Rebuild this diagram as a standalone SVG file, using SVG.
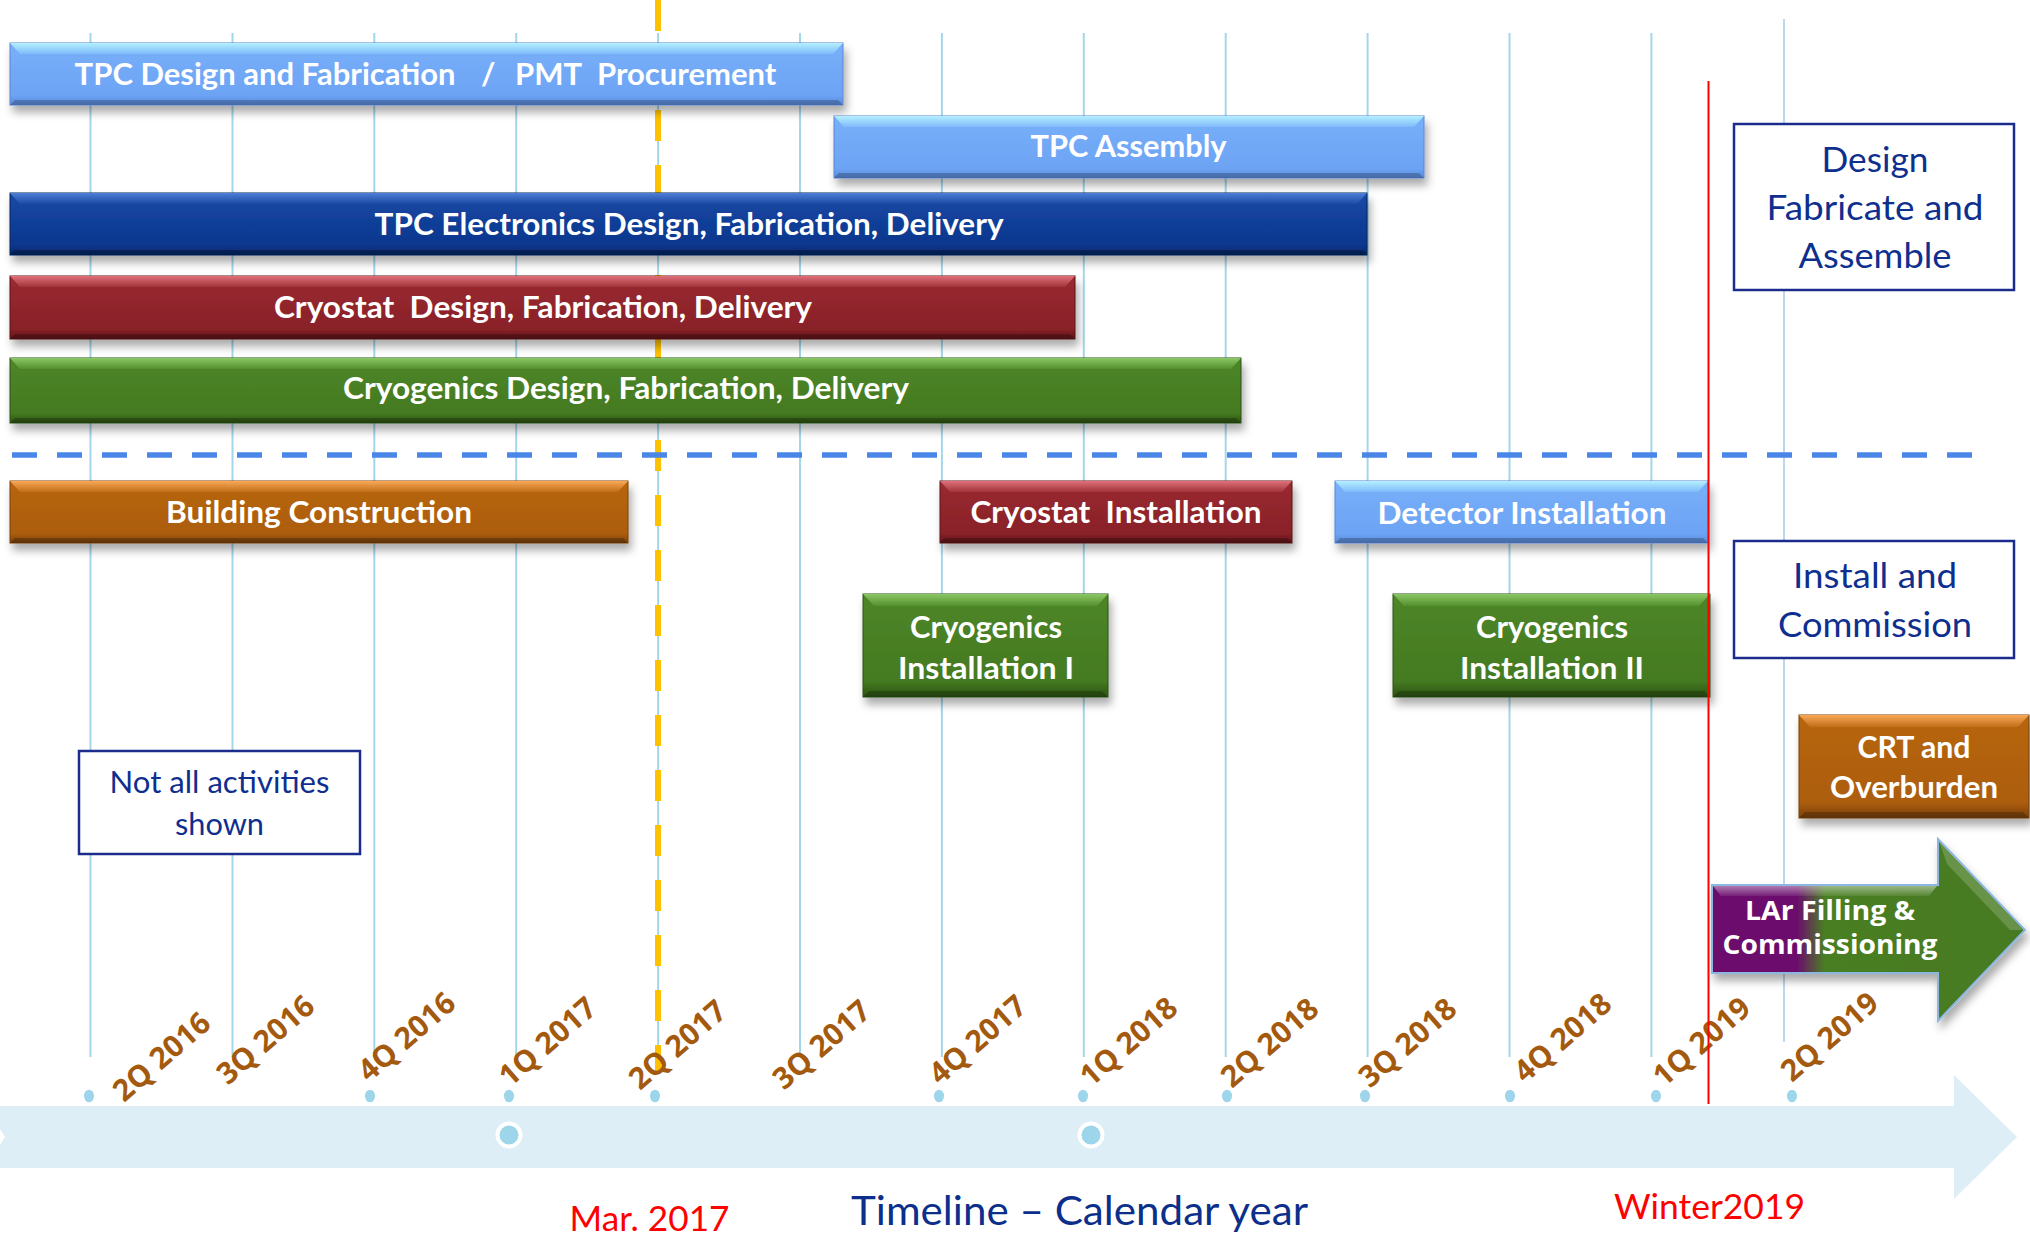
<svg xmlns="http://www.w3.org/2000/svg" width="2030" height="1238" viewBox="0 0 2030 1238">
  <defs>
    <style>
      .grid { stroke: #A4D6EA; stroke-width: 2; }
      .bt { font-family: Lato, "Liberation Sans", sans-serif; font-weight: 700; font-size: 31px; fill: #ffffff; text-anchor: middle; }
      .st { text-anchor: start; }
      .lar { font-family: "Open Sans", "Liberation Sans", sans-serif; font-size: 26px; }
      .qt { font-family: "Open Sans", "Liberation Sans", sans-serif; font-weight: 700; font-size: 30px; fill: #A35A0E; }
      .box { fill: #ffffff; stroke: #1B2C8C; stroke-width: 2.5; }
      .bx { font-family: Lato, "Liberation Sans", sans-serif; font-size: 35px; fill: #0F2F8F; text-anchor: middle; }
      .bxs { font-size: 31px; }
      .red { font-family: Lato, "Liberation Sans", sans-serif; font-size: 35px; fill: #FF0000; }
      .dot { fill: #9DD5EA; }
      .lb { fill: url(#bLb); stroke: #5A86D6; stroke-width: 1; }
      .db { fill: url(#bDb); stroke: #06275F; stroke-width: 1; }
      .rd { fill: url(#bRd); stroke: #5A1418; stroke-width: 1; }
      .gr { fill: url(#bGr); stroke: #2C5213; stroke-width: 1; }
      .or { fill: url(#bOr); stroke: #784008; stroke-width: 1; }
      .hlb { fill: url(#tLb); } .hdb { fill: url(#tDb); } .hrd { fill: url(#tRd); } .hgr { fill: url(#tGr); } .hor { fill: url(#tOr); }
      .lo { fill: #000000; fill-opacity: 0.22; }
    </style>
    <filter id="sh" x="-5%" y="-20%" width="112%" height="160%">
      <feDropShadow dx="3" dy="7" stdDeviation="4" flood-color="#000" flood-opacity="0.33"/>
    </filter>
    <!-- bar bodies -->
    <linearGradient id="bLb" x1="0" y1="0" x2="0" y2="1"><stop offset="0" stop-color="#78B0FA"/><stop offset="0.85" stop-color="#6CA3F4"/><stop offset="1" stop-color="#5A8AD8"/></linearGradient>
    <linearGradient id="bDb" x1="0" y1="0" x2="0" y2="1"><stop offset="0" stop-color="#1A4AA6"/><stop offset="0.85" stop-color="#08368D"/><stop offset="1" stop-color="#05265F"/></linearGradient>
    <linearGradient id="bRd" x1="0" y1="0" x2="0" y2="1"><stop offset="0" stop-color="#9A2A31"/><stop offset="0.85" stop-color="#892128"/><stop offset="1" stop-color="#5C1418"/></linearGradient>
    <linearGradient id="bGr" x1="0" y1="0" x2="0" y2="1"><stop offset="0" stop-color="#4E8628"/><stop offset="0.85" stop-color="#447A21"/><stop offset="1" stop-color="#2C5213"/></linearGradient>
    <linearGradient id="bOr" x1="0" y1="0" x2="0" y2="1"><stop offset="0" stop-color="#B8660F"/><stop offset="0.85" stop-color="#AC5D0E"/><stop offset="1" stop-color="#7A4008"/></linearGradient>
    <!-- top bevels -->
    <linearGradient id="tLb" x1="0" y1="0" x2="0" y2="1"><stop offset="0" stop-color="#B4F0FF"/><stop offset="1" stop-color="#80BAFA"/></linearGradient>
    <linearGradient id="tDb" x1="0" y1="0" x2="0" y2="1"><stop offset="0" stop-color="#4E7ED6"/><stop offset="1" stop-color="#1B4AA4"/></linearGradient>
    <linearGradient id="tRd" x1="0" y1="0" x2="0" y2="1"><stop offset="0" stop-color="#E0707A"/><stop offset="1" stop-color="#A0343A"/></linearGradient>
    <linearGradient id="tGr" x1="0" y1="0" x2="0" y2="1"><stop offset="0" stop-color="#8CC766"/><stop offset="1" stop-color="#55902E"/></linearGradient>
    <linearGradient id="tOr" x1="0" y1="0" x2="0" y2="1"><stop offset="0" stop-color="#F9A858"/><stop offset="1" stop-color="#C06E18"/></linearGradient>
    <!-- purple-to-green fill of the final arrow -->
    <linearGradient id="larFill" x1="0" y1="0" x2="1" y2="0">
      <stop offset="0" stop-color="#6C0A6E"/><stop offset="0.27" stop-color="#6C0A6E"/>
      <stop offset="0.36" stop-color="#4A7E24"/><stop offset="1" stop-color="#467A22"/>
    </linearGradient>
    <linearGradient id="larTop" x1="0" y1="0" x2="0" y2="1"><stop offset="0" stop-color="#ffffff" stop-opacity="0.45"/><stop offset="1" stop-color="#ffffff" stop-opacity="0.08"/></linearGradient>
  </defs>

  <rect width="2030" height="1238" fill="#ffffff"/>

  <!-- quarter grid -->
  <g id="grid">
    <line class="grid" x1="90.5" y1="33" x2="90.5" y2="1057"/>
    <line class="grid" x1="232.5" y1="33" x2="232.5" y2="1057"/>
    <line class="grid" x1="374.3" y1="33" x2="374.3" y2="1057"/>
    <line class="grid" x1="516.2" y1="33" x2="516.2" y2="1057"/>
    <line class="grid" x1="658.1" y1="33" x2="658.1" y2="1057"/>
    <line class="grid" x1="800" y1="33" x2="800" y2="1057"/>
    <line class="grid" x1="941.9" y1="33" x2="941.9" y2="1057"/>
    <line class="grid" x1="1083.8" y1="33" x2="1083.8" y2="1057"/>
    <line class="grid" x1="1225.7" y1="33" x2="1225.7" y2="1057"/>
    <line class="grid" x1="1367.6" y1="33" x2="1367.6" y2="1057"/>
    <line class="grid" x1="1509.5" y1="33" x2="1509.5" y2="1057"/>
    <line class="grid" x1="1651.4" y1="33" x2="1651.4" y2="1057"/>
    <line x1="1784" y1="19" x2="1784" y2="1042" stroke="#BDD7EE" stroke-width="2"/>
  </g>

  <!-- markers: current date and phase separator -->
  <g id="connectors">
    <line x1="658" y1="0" x2="658" y2="1072" stroke="#FFC000" stroke-width="6" stroke-dasharray="31 24"/>
    <line x1="12" y1="455" x2="1972" y2="455" stroke="#4A86E8" stroke-width="5.5" stroke-dasharray="25 20"/>
  </g>

  <!-- timeline band -->
  <g id="timeline">
    <path d="M0,1106 H1954 V1075 L2017,1137 L1954,1199 V1168 H0 Z" fill="#DDEEF7"/>
    <path d="M0,1129 L5,1137 L0,1145 Z" fill="#ffffff"/>
    <ellipse class="dot" cx="89" cy="1096" rx="5" ry="6.3"/>
    <ellipse class="dot" cx="370" cy="1096" rx="5" ry="6.3"/>
    <ellipse class="dot" cx="509" cy="1096" rx="5" ry="6.3"/>
    <ellipse class="dot" cx="655" cy="1096" rx="5" ry="6.3"/>
    <ellipse class="dot" cx="939" cy="1096" rx="5" ry="6.3"/>
    <ellipse class="dot" cx="1083" cy="1096" rx="5" ry="6.3"/>
    <ellipse class="dot" cx="1227" cy="1096" rx="5" ry="6.3"/>
    <ellipse class="dot" cx="1365" cy="1096" rx="5" ry="6.3"/>
    <ellipse class="dot" cx="1510" cy="1096" rx="5" ry="6.3"/>
    <ellipse class="dot" cx="1656" cy="1096" rx="5" ry="6.3"/>
    <ellipse class="dot" cx="1792" cy="1096" rx="5" ry="6.3"/>
    <circle cx="509" cy="1135" r="11.5" fill="#9DD5EA" stroke="#ffffff" stroke-width="4"/>
    <circle cx="1091" cy="1135" r="11.5" fill="#9DD5EA" stroke="#ffffff" stroke-width="4"/>
  </g>

  <!-- quarter labels -->
  <g id="quarters">
    <text class="qt" transform="translate(124,1103) rotate(-41)">2Q 2016</text>
    <text class="qt" transform="translate(228,1086) rotate(-41)">3Q 2016</text>
    <text class="qt" transform="translate(369,1083) rotate(-41)">4Q 2016</text>
    <text class="qt" transform="translate(510,1088) rotate(-41)">1Q 2017</text>
    <text class="qt" transform="translate(640,1091) rotate(-41)">2Q 2017</text>
    <text class="qt" transform="translate(784,1091) rotate(-41)">3Q 2017</text>
    <text class="qt" transform="translate(940,1086) rotate(-41)">4Q 2017</text>
    <text class="qt" transform="translate(1091,1088) rotate(-41)">1Q 2018</text>
    <text class="qt" transform="translate(1232,1089) rotate(-41)">2Q 2018</text>
    <text class="qt" transform="translate(1370,1089) rotate(-41)">3Q 2018</text>
    <text class="qt" transform="translate(1525,1084) rotate(-41)">4Q 2018</text>
    <text class="qt" transform="translate(1664,1088) rotate(-41)">1Q 2019</text>
    <text class="qt" transform="translate(1792,1083) rotate(-41)">2Q 2019</text>
  </g>

  <!-- activity bars -->
  <g id="tpc-design">
    <rect class="lb" x="10" y="43" width="833" height="62" filter="url(#sh)"/>
    <path class="hlb" d="M10,43 H843 L833,54 H20 Z"/>
    <path class="lo" d="M10,105 H843 L838,100 H15 Z"/>
    <text class="bt st" y="85" xml:space="preserve"><tspan x="74.6">TPC Design and Fabrication   </tspan><tspan x="481">/  </tspan><tspan x="515">PMT  </tspan><tspan x="597">Procurement</tspan></text>
  </g>
  <g id="tpc-assembly">
    <rect class="lb" x="834" y="116" width="590" height="62" filter="url(#sh)"/>
    <path class="hlb" d="M834,116 H1424 L1414,127 H844 Z"/>
    <path class="lo" d="M834,178 H1424 L1419,173 H839 Z"/>
    <text class="bt" x="1128.5" y="157" textLength="196" lengthAdjust="spacingAndGlyphs">TPC Assembly</text>
  </g>
  <g id="tpc-electronics">
    <rect class="db" x="10" y="193" width="1357" height="62" filter="url(#sh)"/>
    <path class="hdb" d="M10,193 H1367 L1357,204 H20 Z"/>
    <path class="lo" d="M10,255 H1367 L1362,250 H15 Z"/>
    <text class="bt" x="689" y="235" textLength="629" lengthAdjust="spacingAndGlyphs">TPC Electronics Design, Fabrication, Delivery</text>
  </g>
  <g id="cryostat-design">
    <rect class="rd" x="10" y="276" width="1065" height="63" filter="url(#sh)"/>
    <path class="hrd" d="M10,276 H1075 L1065,287 H20 Z"/>
    <path class="lo" d="M10,339 H1075 L1070,334 H15 Z"/>
    <text class="bt" x="543" y="318" textLength="538" lengthAdjust="spacingAndGlyphs" xml:space="preserve">Cryostat  Design, Fabrication, Delivery</text>
  </g>
  <g id="cryogenics-design">
    <rect class="gr" x="10" y="358" width="1231" height="65" filter="url(#sh)"/>
    <path class="hgr" d="M10,358 H1241 L1231,369 H20 Z"/>
    <path class="lo" d="M10,423 H1241 L1236,418 H15 Z"/>
    <text class="bt" x="626" y="399" textLength="566" lengthAdjust="spacingAndGlyphs">Cryogenics Design, Fabrication, Delivery</text>
  </g>
  <g id="building">
    <rect class="or" x="10" y="481" width="618" height="62" filter="url(#sh)"/>
    <path class="hor" d="M10,481 H628 L618,492 H20 Z"/>
    <path class="lo" d="M10,543 H628 L623,538 H15 Z"/>
    <text class="bt" x="319" y="523" textLength="306" lengthAdjust="spacingAndGlyphs">Building Construction</text>
  </g>
  <g id="cryostat-install">
    <rect class="rd" x="940" y="481" width="352" height="62" filter="url(#sh)"/>
    <path class="hrd" d="M940,481 H1292 L1282,492 H950 Z"/>
    <path class="lo" d="M940,543 H1292 L1287,538 H945 Z"/>
    <text class="bt" x="1116" y="523" textLength="291" lengthAdjust="spacingAndGlyphs" xml:space="preserve">Cryostat  Installation</text>
  </g>
  <g id="detector-install">
    <rect class="lb" x="1335" y="481" width="373" height="62" filter="url(#sh)"/>
    <path class="hlb" d="M1335,481 H1708 L1698,492 H1345 Z"/>
    <path class="lo" d="M1335,543 H1708 L1703,538 H1340 Z"/>
    <text class="bt" x="1522" y="524" textLength="289" lengthAdjust="spacingAndGlyphs">Detector Installation</text>
  </g>
  <g id="cryogenics-install-1">
    <rect class="gr" x="863" y="594" width="245" height="103" filter="url(#sh)"/>
    <path class="hgr" d="M863,594 H1108 L1097,606 H874 Z"/>
    <path class="lo" d="M863,697 H1108 L1102,691 H869 Z"/>
    <text class="bt" x="986" y="638" textLength="152" lengthAdjust="spacingAndGlyphs">Cryogenics</text>
    <text class="bt" x="986" y="679" textLength="176" lengthAdjust="spacingAndGlyphs">Installation I</text>
  </g>
  <g id="cryogenics-install-2">
    <rect class="gr" x="1393" y="594" width="317" height="103" filter="url(#sh)"/>
    <path class="hgr" d="M1393,594 H1710 L1699,606 H1404 Z"/>
    <path class="lo" d="M1393,697 H1710 L1704,691 H1399 Z"/>
    <text class="bt" x="1552" y="638" textLength="152" lengthAdjust="spacingAndGlyphs">Cryogenics</text>
    <text class="bt" x="1552" y="679" textLength="184" lengthAdjust="spacingAndGlyphs">Installation II</text>
  </g>
  <g id="crt">
    <rect class="or" x="1799" y="715" width="230" height="103" filter="url(#sh)"/>
    <path class="hor" d="M1799,715 H2029 L2018,727 H1810 Z"/>
    <path class="lo" d="M1799,818 H2029 L2023,812 H1805 Z"/>
    <text class="bt" x="1914" y="758" textLength="113" lengthAdjust="spacingAndGlyphs">CRT and</text>
    <text class="bt" x="1914" y="798" textLength="168" lengthAdjust="spacingAndGlyphs">Overburden</text>
  </g>
  <g id="lar-filling">
    <path d="M1712,885 H1938 V839 L2025,930 L1938,1021 V973 H1712 Z" fill="url(#larFill)" stroke="#8CB7E0" stroke-width="2" filter="url(#sh)"/>
    <path d="M1713,886 H1937 L1929,896 H1721 Z" fill="url(#larTop)"/>
    <path d="M1939,841 L2023,930 L2010,930 L1947,864 Z" fill="#ffffff" fill-opacity="0.18"/>
    <text class="bt lar" x="1830" y="920" textLength="170" lengthAdjust="spacingAndGlyphs">LAr Filling &amp;</text>
    <text class="bt lar" x="1830" y="954" textLength="215" lengthAdjust="spacingAndGlyphs">Commissioning</text>
  </g>

  <!-- phase notes -->
  <g id="note-design">
    <rect class="box" x="1734" y="124" width="280" height="166"/>
    <text class="bx" x="1875" y="172" textLength="107" lengthAdjust="spacingAndGlyphs">Design</text>
    <text class="bx" x="1875" y="220" textLength="217" lengthAdjust="spacingAndGlyphs">Fabricate and</text>
    <text class="bx" x="1875" y="268" textLength="153" lengthAdjust="spacingAndGlyphs">Assemble</text>
  </g>
  <g id="note-install">
    <rect class="box" x="1734" y="541" width="280" height="117"/>
    <text class="bx" x="1875" y="588" textLength="164" lengthAdjust="spacingAndGlyphs">Install and</text>
    <text class="bx" x="1875" y="637" textLength="194" lengthAdjust="spacingAndGlyphs">Commission</text>
  </g>
  <g id="note-partial">
    <rect class="box" x="79" y="751" width="281" height="103"/>
    <text class="bx bxs" x="219.5" y="793" textLength="220" lengthAdjust="spacingAndGlyphs">Not all activities</text>
    <text class="bx bxs" x="219.5" y="835" textLength="89" lengthAdjust="spacingAndGlyphs">shown</text>
  </g>

  <!-- target date marker -->
  <line x1="1708.5" y1="81" x2="1708.5" y2="1104" stroke="#FF0000" stroke-width="2"/>

  <!-- axis captions -->
  <g id="captions">
    <text class="red" x="569.5" y="1231" textLength="160" lengthAdjust="spacingAndGlyphs">Mar. 2017</text>
    <text x="851" y="1225" style="font-family:Lato,'Liberation Sans',sans-serif;font-size:40px;fill:#0B2F8A" textLength="457" lengthAdjust="spacingAndGlyphs">Timeline – Calendar year</text>
    <text class="red" x="1614" y="1219" textLength="191" lengthAdjust="spacingAndGlyphs">Winter2019</text>
  </g>
</svg>
